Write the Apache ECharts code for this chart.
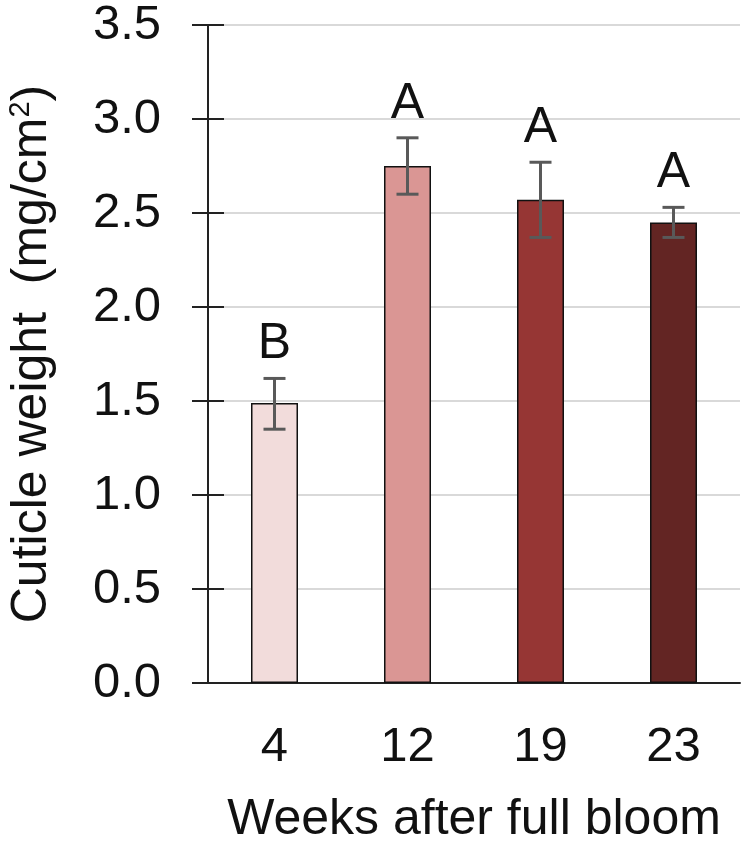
<!DOCTYPE html>
<html><head><meta charset="utf-8">
<script src="https://cdn.jsdelivr.net/npm/echarts@6/dist/echarts.min.js"></script>
<style>html,body{margin:0;padding:0;background:#fff}#c{width:746px;height:845px}</style>
</head><body><div id="c"></div>
<script>
const categories = ['4', '12', '19', '23'];
const means = [1.49, 2.75, 2.57, 2.45];
const errLow = [1.35, 2.60, 2.37, 2.37];
const errHigh = [1.62, 2.90, 2.77, 2.53];
const letters = ['B', 'A', 'A', 'A'];
const barColors = ['#F2DCDB', '#DA9694', '#963634', '#632523'];

const FONT = 'Liberation Sans, Arial, sans-serif';
const chart = echarts.init(document.getElementById('c'));
chart.setOption({
  animation: false,
  grid: { left: 208, right: 6, top: 25, bottom: 162, containLabel: false, outerBoundsMode: 'none' },
  xAxis: {
    type: 'category', data: categories,
    axisLine: { lineStyle: { color: '#222', width: 2 } },
    axisTick: { show: false },
    axisLabel: { color: '#111', fontSize: 49, fontFamily: FONT, margin: 40 },
    name: 'Weeks after full bloom', nameLocation: 'middle', nameGap: 112,
    nameTextStyle: { color: '#111', fontSize: 50, fontFamily: FONT }
  },
  yAxis: [{
    type: 'value', min: 0, max: 3.5, interval: 0.5,
    axisLine: { show: true, lineStyle: { color: '#222', width: 2 } },
    axisTick: { show: true, length: 16, lineStyle: { color: '#222', width: 2 } },
    axisLabel: { color: '#111', fontSize: 49, fontFamily: FONT, margin: 47,
      formatter: v => v.toFixed(1) },
    splitLine: { lineStyle: { color: '#d9d9d9', width: 2 } },
    name: 'Cuticle weight  (mg/cm{sup|2})', nameLocation: 'middle', nameGap: 149,
    nameTextStyle: { color: '#111', fontSize: 50, fontFamily: FONT,
      rich: { sup: { fontSize: 29, verticalAlign: 'top', padding: [0,0,24,0], fontFamily: FONT, color: '#111' } } }
  }, {
    type: 'value', min: 0, max: 3.5, interval: 0.5, position: 'left',
    axisLine: { show: false },
    axisTick: { show: true, inside: true, length: 16, lineStyle: { color: '#222', width: 2 } },
    axisLabel: { show: false }, splitLine: { show: false }
  }],
  series: [{
    type: 'bar', yAxisIndex: 0,
    data: means.map((v, i) => ({ value: v, itemStyle: { color: barColors[i] } })),
    barWidth: 47,
    itemStyle: { borderColor: '#111', borderWidth: 1.5 }
  }, {
    type: 'custom', yAxisIndex: 0,
    data: categories.map((c, i) => [i, errLow[i], errHigh[i], letters[i]]),
    renderItem: function (params, api) {
      const lo = api.coord([api.value(0), api.value(1)]);
      const hi = api.coord([api.value(0), api.value(2)]);
      const half = 11;
      const st = { stroke: '#595959', lineWidth: 3 };
      return {
        type: 'group', children: [
          { type: 'line', shape: { x1: hi[0], y1: hi[1], x2: lo[0], y2: lo[1] }, style: st },
          { type: 'line', shape: { x1: hi[0]-half, y1: hi[1], x2: hi[0]+half, y2: hi[1] }, style: st },
          { type: 'line', shape: { x1: lo[0]-half, y1: lo[1], x2: lo[0]+half, y2: lo[1] }, style: st },
          { type: 'text', x: hi[0], y: hi[1] - 9, style: { text: letters[params.dataIndex],
            fill: '#111', fontSize: 50, fontFamily: FONT, align: 'center', verticalAlign: 'bottom' } }
        ]
      };
    },
    z: 5
  }]
});
</script></body></html>
